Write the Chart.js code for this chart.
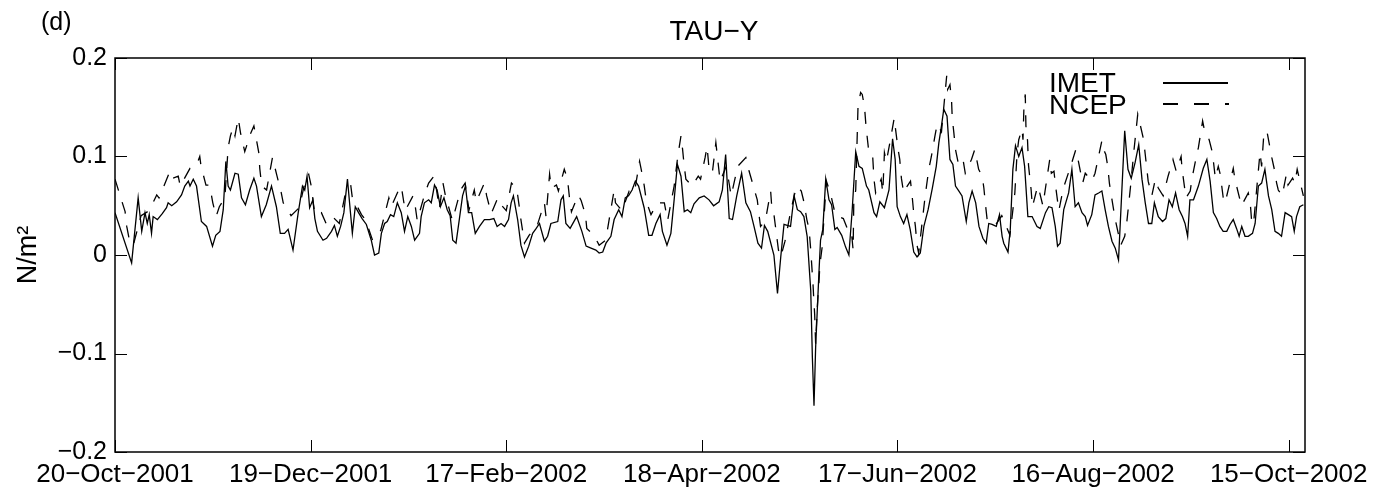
<!DOCTYPE html>
<html>
<head>
<meta charset="utf-8">
<title>TAU-Y</title>
<script src="https://cdn.jsdelivr.net/npm/chart.js@4.4.1/dist/chart.umd.min.js"></script>
<style>
  html, body { margin: 0; padding: 0; background: #fff; }
  canvas { display: block; }
</style>
</head>
<body>
<canvas id="tauY" width="1382" height="496"></canvas>
<script>
// x axis: days since 20-Oct-2001
const tickDays = [0, 60, 120, 180, 240, 300, 360];
const tickLabels = ["20−Oct−2001", "19−Dec−2001", "17−Feb−2002", "18−Apr−2002",
                    "17−Jun−2002", "16−Aug−2002", "15−Oct−2002"];
const yTicks = [-0.2, -0.1, 0, 0.1, 0.2];

// IMET buoy stress (N/m2)
const imetDays = [
  0, 5.1, 7.1, 8.2, 9.2, 9.9, 10.5, 11.2, 11.7, 13,
  14.5, 15.8, 16.3, 17.4, 18.9, 20.4, 21.4, 22.5, 23, 24,
  25, 26.5, 28.1, 29.9, 30.9, 32.2, 33.2, 34, 34.7, 35.4,
  36.8, 37.8, 38.8, 40, 41.3, 42.6, 43.4, 44.9, 46.4, 48,
  49.5, 50.7, 52, 53.1, 54.6, 56.2, 57.5, 58.2, 58.9, 59.7,
  60.7, 61.3, 62.1, 63.8, 64.9, 66.4, 67.3, 68.2, 69.2, 70.2,
  71.3, 72, 72.8, 73.7, 74.7, 75.8, 77.1, 78.6, 79.6, 80.9,
  81.7, 82.7, 83.5, 84.5, 85.5, 86.6, 87.8, 88.8, 89.8, 90.9,
  91.9, 93.4, 93.9, 94.9, 96.2, 97, 98, 98.8, 99.8, 100.9,
  101.9, 102.8, 103.6, 104.6, 105.6, 106.6, 107.5, 108.4, 109.4, 110.5,
  111.8, 113.3, 114.9, 116.2, 117.2, 118.4, 119.5, 120.7, 121.5, 122.2,
  123.5, 124.5, 125.6, 126.9, 128.1, 129.2, 130.2, 131.7, 132.7, 133.7,
  135.8, 136.8, 137.5, 138.3, 139.6, 141.6, 143.2, 144.5, 146, 147.5,
  148.5, 149.6, 150.6, 152.1, 153.1, 154.5, 155.5, 156.5, 157.5, 158.6,
  159.6, 160.6, 162.3, 163.7, 164.7, 165.9, 167.2, 167.9, 169.3, 170.5,
  171.5, 172.5, 173.6, 174.6, 175.6, 176.6, 177.6, 179.2, 180.7, 182.2,
  183.6, 185.3, 186.3, 187.3, 188.4, 189.4, 190.7, 192.2, 193.5, 194.9,
  196, 197.2, 198.3, 199.2, 200.2, 202.1, 203.2, 204.2, 205.2, 206.2,
  207.2, 208.3, 209.3, 210.3, 211.3, 212.3, 213.4, 213.9, 214.4, 214.9,
  215.9, 216.4, 217.1, 218, 219, 219.8, 220.8, 221.5, 222.9, 224.1,
  225.1, 226.1, 227.2, 228.2, 229.2, 230.5, 231.2, 232.8, 233.6, 234.6,
  236, 237.4, 238.5, 239.3, 239.9, 240.9, 241.9, 242.9, 243.9, 245,
  246, 247, 248.1, 249.4, 250.7, 251.9, 252.7, 253.5, 254.2, 255.2,
  256.1, 257, 257.8, 258.8, 259.8, 261.1, 261.9, 262.9, 264, 265,
  266.2, 267.2, 268, 269, 270.3, 271.3, 272.1, 272.6, 273.9, 274.6,
  275.4, 276.2, 277.2, 278.2, 279, 280, 281.3, 282.8, 283.8, 285.4,
  286.4, 287.4, 288.4, 289.1, 289.9, 291, 292.5, 293.5, 294.5, 295.5,
  296.6, 297.6, 298.3, 299.6, 300.6, 301.7, 302.7, 303.7, 304.7, 305.8,
  306.8, 307.8, 309.7, 310.7, 311.7, 312.9, 314, 315, 316, 317,
  318, 318.8, 320, 321.3, 322.3, 323.3, 324.3, 325.3, 326.4, 327.4,
  328.2, 329, 329.7, 330.8, 332.3, 333.8, 334.9, 335.9, 336.9, 337.9,
  338.9, 339.9, 341, 342, 343, 344, 344.8, 345.6, 346.6, 347.6,
  348.9, 349.7, 350.7, 351.7, 352.7, 353.8, 354.8, 355.8, 356.8, 357.8,
  358.9, 359.9, 360.9, 361.7, 362.4, 363.4, 364.5
];
const imetTau = [
  0.043, -0.008, 0.058, 0.024, 0.043, 0.032, 0.041, 0.022, 0.039, 0.036,
  0.042, 0.048, 0.053, 0.05, 0.054, 0.061, 0.07, 0.075, 0.07, 0.077,
  0.07, 0.034, 0.029, 0.009, 0.02, 0.024, 0.046, 0.095, 0.07, 0.066,
  0.083, 0.082, 0.058, 0.051, 0.066, 0.078, 0.07, 0.039, 0.051, 0.07,
  0.049, 0.022, 0.022, 0.026, 0.005, 0.043, 0.07, 0.066, 0.08, 0.048,
  0.056, 0.037, 0.024, 0.015, 0.017, 0.024, 0.03, 0.019, 0.029, 0.043,
  0.077, 0.051, 0.022, 0.049, 0.043, 0.037, 0.031, 0.015, 0, 0.002,
  0.022, 0.032, 0.034, 0.041, 0.039, 0.053, 0.043, 0.024, 0.039, 0.029,
  0.015, 0.022, 0.039, 0.053, 0.056, 0.053, 0.071, 0.066, 0.049, 0.058,
  0.046, 0.04, 0.015, 0.012, 0.036, 0.06, 0.07, 0.043, 0.043, 0.022,
  0.029, 0.036, 0.036, 0.037, 0.029, 0.032, 0.029, 0.036, 0.053, 0.06,
  0.036, 0.01, -0.002, 0.009, 0.022, 0.027, 0.032, 0.014, 0.019, 0.032,
  0.034, 0.056, 0.06, 0.032, 0.027, 0.039, 0.024, 0.009, 0.007, 0.005,
  0.002, 0.003, 0.012, 0.019, 0.036, 0.046, 0.039, 0.058, 0.06, 0.066,
  0.075, 0.07, 0.048, 0.02, 0.02, 0.032, 0.041, 0.024, 0.01, 0.022,
  0.056, 0.092, 0.08, 0.044, 0.046, 0.043, 0.052, 0.058, 0.06, 0.056,
  0.05, 0.054, 0.066, 0.102, 0.037, 0.036, 0.06, 0.083, 0.053, 0.044,
  0.029, 0.012, 0.007, 0.03, 0.024, 0, -0.039, -0.002, 0.031, 0.03,
  0.029, 0.06, 0.046, 0.044, 0.039, 0.019, -0.036, -0.104, -0.153, -0.094,
  -0.019, 0.015, 0.026, 0.077, 0.056, 0.051, 0.026, 0.028, 0.02, 0.008,
  0, 0.045, 0.105, 0.09, 0.088, 0.07, 0.066, 0.043, 0.039, 0.054,
  0.048, 0.066, 0.118, 0.097, 0.049, 0.039, 0.032, 0.041, 0.026, 0.003,
  -0.002, 0.002, 0.029, 0.046, 0.068, 0.09, 0.114, 0.131, 0.148, 0.141,
  0.097, 0.092, 0.07, 0.065, 0.06, 0.034, 0.053, 0.065, 0.053, 0.029,
  0.017, 0.012, 0.032, 0.031, 0.029, 0.041, 0.019, 0.012, 0.003, 0.026,
  0.087, 0.111, 0.1, 0.109, 0.09, 0.039, 0.039, 0.029, 0.027, 0.043,
  0.049, 0.048, 0.029, 0.009, 0.012, 0.046, 0.063, 0.087, 0.049, 0.053,
  0.043, 0.039, 0.03, 0.041, 0.061, 0.063, 0.065, 0.046, 0.029, 0.014,
  0.007, -0.005, 0.126, 0.087, 0.078, 0.094, 0.112, 0.077, 0.053, 0.032,
  0.032, 0.053, 0.039, 0.034, 0.037, 0.056, 0.049, 0.063, 0.046, 0.039,
  0.032, 0.019, 0.056, 0.056, 0.07, 0.088, 0.097, 0.075, 0.043, 0.037,
  0.029, 0.024, 0.024, 0.031, 0.036, 0.027, 0.019, 0.029, 0.019, 0.019,
  0.022, 0.032, 0.07, 0.073, 0.087, 0.06, 0.046, 0.024, 0.022, 0.019,
  0.043, 0.041, 0.039, 0.024, 0.039, 0.049, 0.051
];

// NCEP reanalysis stress (N/m2)
const ncepDays = [
  0, 1.5, 3.1, 3.6, 4.6, 5.6, 8, 10.5, 12.8, 13.5,
  16.6, 17.2, 17.7, 19.4, 20, 23, 25, 26, 26.4, 27.9,
  29, 30, 31, 32, 33.7, 34.7, 35.4, 36.2, 36.8, 37.8,
  38.5, 39.8, 40.3, 41, 42.6, 43, 44.1, 44.4, 45, 46.5,
  48.3, 49.7, 51, 51.6, 54, 56.5, 58.7, 59.4, 60.2, 60.7,
  61.3, 63.3, 65, 67.3, 68.8, 70.5, 72.3, 72.8, 74.2, 75.6,
  76.8, 79, 81.5, 84, 84.7, 87, 87.8, 89, 91.4, 91.9,
  92.7, 95.1, 96.2, 97.8, 98.3, 99.5, 100.6, 101.3, 103.5, 106,
  107.4, 108, 108.6, 110.2, 110.8, 113.3, 114, 115.4, 117.4, 118.4,
  120, 121.6, 122.2, 123.2, 124, 124.5, 125.6, 127, 129.5, 131.7,
  132.2, 133.3, 133.8, 135.4, 136, 137.8, 138.8, 139.4, 140, 142.1,
  143, 144.3, 144.7, 146.9, 148.5, 150.5, 153.1, 153.5, 155.5, 157.7,
  159.3, 160.9, 161.4, 162.3, 163, 164.4, 166.4, 168.5, 169.5, 171.5,
  172.6, 173.6, 174.1, 174.6, 175.1, 177, 178.9, 179.6, 181, 181.6,
  182.2, 183.2, 184.3, 184.6, 185.6, 187.5, 189, 191, 193.5, 194.5,
  195.8, 197, 197.6, 198, 199.5, 201.1, 201.4, 202, 202.5, 203.5,
  204.2, 205.5, 207, 208.3, 209.1, 210.5, 211.3, 212.2, 212.9, 213.4,
  213.7, 214.1, 214.3, 214.6, 214.9, 215.3, 215.6, 215.9, 216.2, 216.9,
  217.5, 218.2, 219.5, 221, 223.4, 224.6, 225.8, 226.4, 226.6, 227.2,
  227.9, 228.7, 229.2, 229.9, 230.3, 230.8, 231.3, 232.4, 232.8, 233.3,
  235, 235.5, 236, 236.6, 238, 239, 239.4, 240.2, 240.7, 241.2,
  241.9, 243, 244, 244.5, 245, 245.5, 246, 246.5, 248.5, 249.6,
  250.4, 251.5, 252.2, 253.5, 255.1, 255.4, 256.1, 256.6, 256.8, 257.3,
  257.8, 258.6, 260, 260.8, 262.7, 263.7, 264, 264.9, 266, 266.5,
  267, 267.5, 268.8, 270, 272, 274.5, 276, 276.7, 277.2, 278.2,
  278.5, 278.8, 279.2, 279.4, 279.9, 280.2, 281, 281.4, 283, 283.5,
  284.6, 286.7, 287.2, 288, 288.5, 289.5, 290.4, 291.2, 293.3, 294.7,
  295.5, 296.8, 297.6, 299.6, 300.6, 302.7, 303.5, 303.9, 304.5, 305,
  305.6, 306.8, 308.5, 309.7, 310.3, 311.5, 312.5, 313.7, 314.4, 315.5,
  316, 316.9, 318, 319.1, 320, 321.5, 323, 324.5, 325.5, 327,
  327.3, 328.5, 329.8, 330.3, 331.5, 332.3, 333.6, 334.2, 335.6, 336.6,
  337.5, 338.4, 339, 340, 340.5, 343, 343.5, 345.5, 347.6, 348.2,
  348.6, 349.2, 351.2, 351.7, 352.4, 353.3, 354.8, 355.6, 356.3, 356.8,
  358, 359.3, 359.8, 361.2, 361.9, 362.6, 363.3, 364.5
];
const ncepTau = [
  0.077, 0.061, 0.044, 0.029, 0.012, 0.01, 0.04, 0.045, 0.061, 0.058,
  0.083, 0.085, 0.078, 0.08, 0.07, 0.088, 0.091, 0.1, 0.09, 0.071,
  0.071, 0.053, 0.039, 0.049, 0.058, 0.109, 0.121, 0.129, 0.121, 0.139,
  0.124, 0.105, 0.11, 0.119, 0.131, 0.124, 0.104, 0.088, 0.07, 0.066,
  0.099, 0.08, 0.063, 0.053, 0.04, 0.048, 0.08, 0.082, 0.07, 0.056,
  0.041, 0.043, 0.03, 0.037, 0.032, 0.06, 0.071, 0.058, 0.05, 0.041,
  0.036, 0.015, 0.025, 0.058, 0.049, 0.066, 0.07, 0.045, 0.06, 0.054,
  0.035, 0.063, 0.073, 0.08, 0.073, 0.047, 0.073, 0.061, 0.035, 0.066,
  0.073, 0.058, 0.046, 0.066, 0.054, 0.073, 0.06, 0.042, 0.058, 0.051,
  0.045, 0.073, 0.071, 0.068, 0.049, 0.036, 0.012, 0.02, 0.03, 0.053,
  0.039, 0.082, 0.068, 0.071, 0.065, 0.087, 0.077, 0.058, 0.044, 0.061,
  0.055, 0.041, 0.027, 0.02, 0.01, 0.015, 0.066, 0.053, 0.045, 0.065,
  0.063, 0.095, 0.087, 0.071, 0.054, 0.041, 0.053, 0.053, 0.035, 0.07,
  0.1, 0.121, 0.107, 0.09, 0.077, 0.07, 0.08, 0.077, 0.099, 0.11,
  0.088, 0.083, 0.114, 0.105, 0.075, 0.09, 0.06, 0.09, 0.099, 0.085,
  0.07, 0.056, 0.039, 0.029, 0.035, 0.065, 0.051, 0.044, 0.031, 0.005,
  -0.002, 0.014, 0.04, 0.06, 0.07, 0.065, 0.054, 0.036, 0.026, 0.005,
  -0.01, -0.03, -0.043, -0.06, -0.09, -0.06, -0.043, -0.029, -0.01, 0.008,
  0.04, 0.075, 0.062, 0.04, 0.037, 0.027, 0.026, 0.005, 0.053, 0.066,
  0.151, 0.165, 0.163, 0.15, 0.133, 0.117, 0.102, 0.1, 0.077, 0.063,
  0.077, 0.063, 0.104, 0.095, 0.12, 0.139, 0.128, 0.107, 0.097, 0.078,
  0.063, 0.07, 0.075, 0.06, 0.042, 0.029, 0.01, 0.002, 0.06, 0.087,
  0.1, 0.121, 0.133, 0.125, 0.182, 0.168, 0.173, 0.156, 0.139, 0.124,
  0.107, 0.094, 0.099, 0.083, 0.097, 0.107, 0.102, 0.087, 0.08, 0.068,
  0.051, 0.036, 0.033, 0.03, 0.04, 0.02, 0.063, 0.104, 0.117, 0.128,
  0.117, 0.151, 0.163, 0.131, 0.116, 0.091, 0.066, 0.049, 0.07, 0.065,
  0.05, 0.097, 0.083, 0.085, 0.07, 0.045, 0.06, 0.071, 0.092, 0.107,
  0.095, 0.073, 0.083, 0.075, 0.083, 0.116, 0.105, 0.102, 0.09, 0.073,
  0.06, 0.036, 0.01, 0.019, 0.032, 0.07, 0.105, 0.143, 0.133, 0.117,
  0.102, 0.075, 0.06, 0.077, 0.068, 0.06, 0.08, 0.097, 0.085, 0.1,
  0.087, 0.058, 0.065, 0.077, 0.097, 0.109, 0.136, 0.126, 0.117, 0.104,
  0.078, 0.09, 0.082, 0.056, 0.053, 0.088, 0.077, 0.05, 0.063, 0.053,
  0.036, 0.031, 0.104, 0.09, 0.124, 0.126, 0.099, 0.087, 0.073, 0.066,
  0.06, 0.082, 0.071, 0.078, 0.073, 0.087, 0.077, 0.06
];

const FONT = '"Liberation Sans", Arial, Helvetica, sans-serif';
const TICK_LEN = 12;
const NCEP_DASH = [12, 12];

const toPoints = (days, vals) => days.map((d, i) => ({ x: d, y: vals[i] }));
const fmtY = v => (v < 0 ? "−" : "") + (v === 0 ? "0" : Math.abs(v).toFixed(1));

// box round the plot and inward tick marks on all four sides
const frameTicks = {
  id: "frameTicks",
  afterDatasetsDraw(chart) {
    const { ctx, chartArea: a, scales } = chart;
    ctx.save();
    ctx.strokeStyle = "#000";
    ctx.lineWidth = 1;
    ctx.beginPath();
    tickDays.forEach(d => {
      const px = Math.round(scales.x.getPixelForValue(d)) + 0.5;
      ctx.moveTo(px, a.bottom); ctx.lineTo(px, a.bottom - TICK_LEN);
      ctx.moveTo(px, a.top); ctx.lineTo(px, a.top + TICK_LEN);
    });
    yTicks.forEach(v => {
      const py = Math.round(scales.y.getPixelForValue(v)) + 0.5;
      ctx.moveTo(a.left, py); ctx.lineTo(a.left + TICK_LEN, py);
      ctx.moveTo(a.right, py); ctx.lineTo(a.right - TICK_LEN, py);
    });
    ctx.stroke();
    ctx.lineWidth = 1.5;
    ctx.strokeRect(a.left, a.top, a.right - a.left, a.bottom - a.top);
    ctx.restore();
  }
};

// panel letter, title and the in-plot legend
const annotations = {
  id: "annotations",
  afterDraw(chart) {
    const { ctx } = chart;
    ctx.save();
    ctx.fillStyle = "#000";
    ctx.textBaseline = "alphabetic";
    ctx.textAlign = "left";
    ctx.font = "25px " + FONT;
    ctx.fillText("(d)", 41, 30);
    ctx.textAlign = "center";
    ctx.font = "28px " + FONT;
    ctx.fillText("TAU−Y", 714, 40);

    ctx.textAlign = "left";
    ctx.font = "28px " + FONT;
    const sets = chart.data.datasets;
    ctx.fillText(sets[0].label, 1049, 92);
    ctx.fillText(sets[1].label, 1049, 114);
    ctx.strokeStyle = "#000";
    ctx.lineWidth = 2;
    ctx.beginPath();
    ctx.moveTo(1163, 83); ctx.lineTo(1228, 83);
    ctx.stroke();
    ctx.setLineDash([15, 16]);
    ctx.beginPath();
    ctx.moveTo(1163, 104); ctx.lineTo(1229, 104);
    ctx.stroke();
    ctx.restore();
  }
};

new Chart(document.getElementById("tauY"), {
  type: "line",
  data: {
    datasets: [
      {
        label: "IMET",
        data: toPoints(imetDays, imetTau),
        borderColor: "#000",
        borderWidth: 1.3,
        pointRadius: 0,
        tension: 0
      },
      {
        label: "NCEP",
        data: toPoints(ncepDays, ncepTau),
        borderColor: "#000",
        borderWidth: 1.3,
        borderDash: NCEP_DASH,
        pointRadius: 0,
        tension: 0
      }
    ]
  },
  options: {
    responsive: false,
    animation: false,
    events: [],
    layout: { padding: { top: 58, right: 77, bottom: 0, left: 0 } },
    plugins: {
      legend: { display: false },
      title: { display: false },
      tooltip: { enabled: false }
    },
    scales: {
      x: {
        type: "linear",
        min: 0,
        max: 365,
        grid: { display: false, drawTicks: false },
        border: { display: false },
        afterBuildTicks: scale => { scale.ticks = tickDays.map(v => ({ value: v })); },
        afterFit: scale => { scale.height = 44; },
        ticks: {
          autoSkip: false,
          maxRotation: 0,
          minRotation: 0,
          padding: 7,
          color: "#000",
          font: { family: FONT, size: 26 },
          callback: (v, i) => tickLabels[i]
        }
      },
      y: {
        min: -0.2,
        max: 0.2,
        grid: { display: false, drawTicks: false },
        border: { display: false },
        afterBuildTicks: scale => { scale.ticks = yTicks.map(v => ({ value: v })); },
        afterFit: scale => { scale.width = 115; },
        title: {
          display: true,
          text: "N/m²",
          color: "#000",
          font: { family: FONT, size: 27 },
          padding: { top: 12, bottom: 0 }
        },
        ticks: {
          padding: 8,
          color: "#000",
          font: { family: FONT, size: 25 },
          callback: v => fmtY(v)
        }
      }
    }
  },
  plugins: [frameTicks, annotations]
});
</script>
</body>
</html>
